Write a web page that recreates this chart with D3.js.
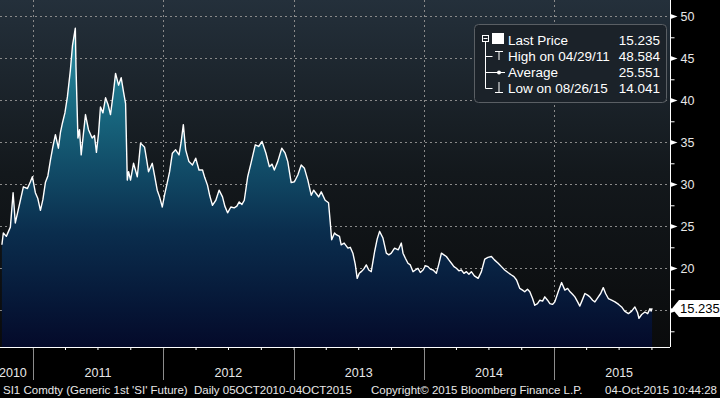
<!DOCTYPE html>
<html>
<head>
<meta charset="utf-8">
<script src="https://cdn.jsdelivr.net/npm/d3@7"></script>
<style>
  html, body { margin: 0; padding: 0; background: #000; overflow: hidden; }
  text { font-family: "Liberation Sans", Arial, sans-serif; }
</style>
</head>
<body>
<script>
// SI1 Comdty - generic 1st silver future (decimal year, price)
const yearFrac = [
  2010.762, 2010.773, 2010.796, 2010.827, 2010.848, 2010.865, 2010.881, 2010.904, 2010.927, 2010.958,
  2010.981, 2010.996, 2011.019, 2011.038, 2011.058, 2011.077, 2011.096, 2011.115, 2011.135, 2011.154,
  2011.173, 2011.196, 2011.212, 2011.227, 2011.246, 2011.265, 2011.288, 2011.304, 2011.326, 2011.331,
  2011.338, 2011.346, 2011.358, 2011.371, 2011.388, 2011.404, 2011.427, 2011.455, 2011.473, 2011.488,
  2011.504, 2011.519, 2011.538, 2011.558, 2011.577, 2011.596, 2011.619, 2011.635, 2011.658, 2011.678,
  2011.696, 2011.712, 2011.725, 2011.735, 2011.750, 2011.773, 2011.802, 2011.812, 2011.827, 2011.858,
  2011.873, 2011.888, 2011.917, 2011.935, 2011.955, 2011.973, 2011.994, 2012.012, 2012.032, 2012.050,
  2012.071, 2012.096, 2012.122, 2012.138, 2012.155, 2012.173, 2012.198, 2012.225, 2012.250, 2012.275,
  2012.302, 2012.319, 2012.340, 2012.358, 2012.378, 2012.404, 2012.429, 2012.455, 2012.473, 2012.494,
  2012.519, 2012.545, 2012.565, 2012.583, 2012.604, 2012.622, 2012.648, 2012.673, 2012.706, 2012.732,
  2012.758, 2012.788, 2012.814, 2012.835, 2012.852, 2012.878, 2012.909, 2012.935, 2012.955, 2012.981,
  2013.006, 2013.032, 2013.058, 2013.083, 2013.109, 2013.135, 2013.154, 2013.173, 2013.192, 2013.212,
  2013.242, 2013.268, 2013.281, 2013.292, 2013.314, 2013.327, 2013.352, 2013.365, 2013.388, 2013.417,
  2013.435, 2013.455, 2013.473, 2013.488, 2013.504, 2013.519, 2013.538, 2013.558, 2013.577, 2013.596,
  2013.622, 2013.642, 2013.660, 2013.686, 2013.712, 2013.731, 2013.750, 2013.775, 2013.804, 2013.827,
  2013.840, 2013.858, 2013.878, 2013.896, 2013.917, 2013.935, 2013.955, 2013.973, 2013.994, 2014.012,
  2014.032, 2014.050, 2014.071, 2014.096, 2014.115, 2014.135, 2014.154, 2014.173, 2014.192, 2014.212,
  2014.231, 2014.250, 2014.269, 2014.288, 2014.308, 2014.327, 2014.346, 2014.365, 2014.388, 2014.417,
  2014.442, 2014.468, 2014.492, 2014.519, 2014.542, 2014.571, 2014.596, 2014.621, 2014.646, 2014.673,
  2014.692, 2014.712, 2014.737, 2014.758, 2014.775, 2014.796, 2014.814, 2014.835, 2014.852, 2014.873,
  2014.891, 2014.912, 2014.929, 2014.950, 2014.968, 2014.988, 2015.006, 2015.032, 2015.058, 2015.083,
  2015.104, 2015.123, 2015.142, 2015.160, 2015.181, 2015.198, 2015.219, 2015.237, 2015.258, 2015.275,
  2015.296, 2015.314, 2015.340, 2015.358, 2015.378, 2015.396, 2015.417, 2015.442, 2015.468, 2015.496,
  2015.519, 2015.542, 2015.571, 2015.596, 2015.621, 2015.642, 2015.652, 2015.673, 2015.698, 2015.719,
  2015.737, 2015.746, 2015.753
];
const prices = [
  22.8, 24.2, 23.8, 24.9, 29.0, 25.4, 26.5, 28.1, 29.7, 29.5,
  30.3, 30.9, 29.0, 28.3, 26.9, 28.2, 30.2, 31.0, 32.9, 34.5,
  35.9, 34.3, 36.2, 37.3, 38.5, 40.4, 43.6, 46.5, 48.584, 44.0,
  40.0, 35.5, 36.5, 33.5, 36.0, 38.3, 36.5, 35.5, 35.8, 33.8,
  36.0, 39.2, 38.5, 40.3, 39.5, 38.3, 41.0, 43.2, 41.8, 42.7,
  41.0, 39.6, 30.5, 31.5, 30.5, 32.5, 30.9, 32.5, 34.9, 34.4,
  33.0, 31.5, 32.5, 31.0, 29.3, 28.5, 27.3, 28.8, 30.2, 31.5,
  33.7, 34.1, 33.5, 35.0, 37.1, 34.1, 32.7, 32.3, 33.1, 31.7,
  31.7, 30.8, 29.9, 28.6, 27.5, 28.1, 29.3, 28.5, 27.4, 26.6,
  27.3, 27.2, 27.4, 27.9, 27.6, 28.1, 30.9, 32.5, 34.7, 34.5,
  35.1, 33.7, 32.1, 32.4, 31.7, 32.7, 34.3, 33.7, 32.7, 30.2,
  30.3, 31.1, 32.3, 31.9, 30.5, 28.7, 29.3, 28.9, 28.5, 29.1,
  28.1, 27.8, 25.5, 23.4, 24.2, 24.0, 23.8, 22.8, 23.0, 22.4,
  22.5, 21.8, 20.5, 18.8, 19.4, 19.6, 19.9, 20.4, 19.8, 19.6,
  22.0, 23.5, 24.4, 23.6, 21.8, 21.6, 21.8, 22.4, 22.2, 23.0,
  21.8, 21.2, 20.6, 20.4, 19.6, 19.8, 20.0, 19.5, 19.8, 20.3,
  20.2, 19.9, 19.8, 19.4, 20.5, 21.8, 21.6, 21.4, 21.0, 20.6,
  20.2, 20.0, 19.7, 19.8, 19.4, 19.6, 19.3, 19.6, 19.1, 18.8,
  19.6, 21.1, 21.3, 21.4, 21.0, 20.6, 20.2, 19.8, 19.5, 19.2,
  19.0, 18.6, 17.6, 17.4, 17.2, 17.5, 17.2, 16.4, 15.6, 15.8,
  16.2, 16.1, 16.6, 16.2, 15.8, 15.7, 16.0, 17.2, 18.3, 17.4,
  17.6, 17.2, 16.9, 16.6, 16.0, 15.5, 16.3, 17.0, 16.8, 16.6,
  16.2, 16.0, 16.6, 17.0, 17.7, 17.0, 16.4, 16.2, 16.0, 15.7,
  15.4, 14.9, 14.6, 14.9, 15.4, 14.7, 14.041, 14.5, 14.8, 14.6,
  15.2, 14.9, 15.235
];

const yMajorTicks = [15, 20, 25, 30, 35, 40, 45, 50];
const yMinorTicks = [12.5, 17.5, 22.5, 27.5, 32.5, 37.5, 42.5, 47.5];
const yearLabels = ["2010", "2011", "2012", "2013", "2014", "2015"];

const legendLabels = ["Last Price", "High on 04/29/11", "Average", "Low on 08/26/15"];
const legendValues = ["15.235", "48.584", "25.551", "14.041"];
const lastPrice = 15.235;

const footerLeft = "SI1 Comdty (Generic 1st 'SI' Future)  Daily 05OCT2010-04OCT2015";
const footerMid = "Copyright\u00a9 2015 Bloomberg Finance L.P.";
const footerRight = "04-Oct-2015 10:44:28";

// decimal year -> Date
function fracToDate(t) {
    const yr = Math.floor(t);
    const a = Date.UTC(yr, 0, 1), b = Date.UTC(yr + 1, 0, 1);
    return new Date(a + (t - yr) * (b - a));
}

const data = yearFrac.map((t, i) => ({date: fracToDate(t), value: prices[i]}));

const width = 720, height = 398;
const plot = {left: 0, right: 670, top: 0, bottom: 347};

const svg = d3.select("body").append("svg")
    .attr("width", width)
    .attr("height", height);

const x = d3.scaleUtc()
    .domain([new Date(Date.UTC(2010, 9, 5)), new Date(Date.UTC(2015, 9, 4))])
    .range([1.5, 652.5]);

const y = d3.scaleLinear()
    .domain([10.63, 51.94])
    .range([plot.bottom, plot.top]);

const defs = svg.append("defs");

const bgGrad = defs.append("linearGradient")
    .attr("id", "bgGrad")
    .attr("x1", 0).attr("y1", 0).attr("x2", 0).attr("y2", 1);
bgGrad.append("stop").attr("offset", "0%").attr("stop-color", "#24303b");
bgGrad.append("stop").attr("offset", "50%").attr("stop-color", "#13181c");
bgGrad.append("stop").attr("offset", "100%").attr("stop-color", "#0a0b0c");

const areaGrad = defs.append("linearGradient")
    .attr("id", "areaGrad")
    .attr("gradientUnits", "userSpaceOnUse")
    .attr("x1", 0).attr("y1", 20).attr("x2", 0).attr("y2", plot.bottom);
areaGrad.append("stop").attr("offset", "0%").attr("stop-color", "#2c93a6");
areaGrad.append("stop").attr("offset", "30%").attr("stop-color", "#17647c");
areaGrad.append("stop").attr("offset", "65%").attr("stop-color", "#0a2d4d");
areaGrad.append("stop").attr("offset", "100%").attr("stop-color", "#040a2a");

defs.append("clipPath").attr("id", "plotClip")
    .append("rect")
    .attr("x", plot.left).attr("y", plot.top)
    .attr("width", plot.right - plot.left).attr("height", plot.bottom - plot.top);

// black page, gradient plot area
svg.append("rect").attr("width", width).attr("height", height).attr("fill", "#000");
svg.append("rect")
    .attr("x", plot.left).attr("y", plot.top)
    .attr("width", plot.right - plot.left).attr("height", plot.bottom - plot.top)
    .attr("fill", "url(#bgGrad)");

const gridColor = "#8a8a8a";
const yearStarts = d3.utcYear.range(x.domain()[0], x.domain()[1]);

// grid
const grid = svg.append("g").attr("clip-path", "url(#plotClip)");
grid.selectAll(".hgrid")
    .data(yMajorTicks)
    .join("line")
    .attr("x1", plot.left).attr("x2", plot.right)
    .attr("y1", d => Math.round(y(d)) + 0.5).attr("y2", d => Math.round(y(d)) + 0.5)
    .attr("stroke", gridColor).attr("stroke-width", 1).attr("stroke-dasharray", "2,3");
grid.selectAll(".vgrid")
    .data(yearStarts)
    .join("line")
    .attr("x1", d => Math.round(x(d)) + 0.5).attr("x2", d => Math.round(x(d)) + 0.5)
    .attr("y1", plot.top).attr("y2", plot.bottom)
    .attr("stroke", gridColor).attr("stroke-width", 1).attr("stroke-dasharray", "2,3");

// price area + line
const area = d3.area()
    .x(d => x(d.date))
    .y0(plot.bottom)
    .y1(d => y(d.value));
const line = d3.line()
    .x(d => x(d.date))
    .y(d => y(d.value));

const chart = svg.append("g").attr("clip-path", "url(#plotClip)");
chart.append("path").datum(data).attr("d", area).attr("fill", "url(#areaGrad)");
chart.append("path").datum(data).attr("d", line)
    .attr("fill", "none").attr("stroke", "#ffffff").attr("stroke-width", 1.4)
    .attr("stroke-linejoin", "round");

// legend box
const legend = svg.append("g").attr("transform", "translate(474,24)");
legend.append("rect")
    .attr("x", 0.5).attr("y", 0.5).attr("width", 192).attr("height", 78).attr("rx", 4)
    .attr("fill", "#1b2229").attr("stroke", "#5a5f64");

const rowY = [16, 32, 48, 64];
const treeX = 11.5;
legend.append("rect").attr("x", 8.5).attr("y", 11.5).attr("width", 6).attr("height", 6)
    .attr("fill", "none").attr("stroke", "#fff");
legend.append("line").attr("x1", 9.5).attr("x2", 13.5).attr("y1", 14.5).attr("y2", 14.5).attr("stroke", "#fff");
legend.append("path")
    .attr("d", `M${treeX},18 V${rowY[3] + 0.5} H${treeX + 7}`)
    .attr("fill", "none").attr("stroke", "#fff");
rowY.slice(1, 3).forEach(ry => {
    legend.append("line").attr("x1", treeX).attr("x2", treeX + 7)
        .attr("y1", ry + 0.5).attr("y2", ry + 0.5).attr("stroke", "#fff");
});
// icons
legend.append("rect").attr("x", 18).attr("y", 9).attr("width", 12).attr("height", 11).attr("fill", "#fff");
legend.append("path").attr("d", `M21,${rowY[1] - 4.5} H29 M25,${rowY[1] - 4.5} V${rowY[1] + 4}`)
    .attr("stroke", "#fff").attr("fill", "none");
legend.append("line").attr("x1", treeX).attr("x2", 31).attr("y1", rowY[2] + 0.5).attr("y2", rowY[2] + 0.5)
    .attr("stroke", "#fff");
legend.append("circle").attr("cx", 25).attr("cy", rowY[2] + 0.5).attr("r", 2).attr("fill", "#fff");
legend.append("path").attr("d", `M25,${rowY[3] - 6} V${rowY[3] + 4.5} M21,${rowY[3] + 4.5} H29`)
    .attr("stroke", "#fff").attr("fill", "none");

legend.selectAll(".lab")
    .data(legendLabels)
    .join("text")
    .attr("x", 34).attr("y", (d, i) => rowY[i] + 5)
    .attr("fill", "#ffffff").style("font-size", "13.5px")
    .text(d => d);
legend.selectAll(".val")
    .data(legendValues)
    .join("text")
    .attr("x", 186).attr("y", (d, i) => rowY[i] + 5)
    .attr("text-anchor", "end")
    .attr("fill", "#ffffff").style("font-size", "13.5px")
    .text(d => d);

// right axis
const yAxisMinor = d3.axisRight(y).tickValues(yMinorTicks).tickSize(4).tickFormat("");
const yAxisG = svg.append("g").attr("transform", `translate(${plot.right + 0.5},0)`);
yAxisG.call(yAxisMinor);
yAxisG.select(".domain").remove();
yAxisG.selectAll(".tick line").attr("stroke", "#fff");
yAxisG.append("line").attr("x1", 0).attr("x2", 0).attr("y1", 0).attr("y2", plot.bottom)
    .attr("stroke", "#fff");

const majors = yAxisG.selectAll(".major")
    .data(yMajorTicks)
    .join("g")
    .attr("transform", d => `translate(0,${Math.round(y(d)) + 0.5})`);
majors.append("path").attr("d", "M0,-2.5 L7,0 L0,2.5 Z").attr("fill", "#fff");
// the last-price tag sits on top of any label it hits, so leave those out
majors.filter(d => Math.abs(y(d) - y(lastPrice)) > 12)
    .append("text")
    .attr("x", 10).attr("dy", "0.35em")
    .attr("fill", "#e8e8e8").style("font-size", "12.5px")
    .text(d => d);

// last price tag
const lp = Math.round(y(lastPrice)) + 0.5;
svg.append("path")
    .attr("d", `M${plot.right + 2},${lp} L${plot.right + 9},${lp - 8.5} H720 V${lp + 8.5} H${plot.right + 9} Z`)
    .attr("fill", "#fff");
svg.append("text")
    .attr("x", plot.right + 10).attr("y", lp).attr("dy", "0.36em")
    .attr("fill", "#000").style("font-size", "13px")
    .text(lastPrice.toFixed(3));

// bottom axis
const xAxis = d3.axisBottom(x).ticks(d3.utcMonth.every(3)).tickSize(3).tickFormat("");
const xAxisG = svg.append("g").attr("transform", `translate(0,${plot.bottom})`);
xAxisG.call(xAxis);
xAxisG.select(".domain").remove();
xAxisG.selectAll(".tick line").attr("stroke", "#fff");
xAxisG.append("line").attr("x1", 0).attr("x2", plot.right).attr("y1", 0.5).attr("y2", 0.5)
    .attr("stroke", "#fff");
xAxisG.selectAll(".ydiv")
    .data(yearStarts)
    .join("line")
    .attr("x1", d => Math.round(x(d)) + 0.5).attr("x2", d => Math.round(x(d)) + 0.5)
    .attr("y1", 1).attr("y2", 33)
    .attr("stroke", "#8c8c8c");

const yearCenters = yearLabels.map((lab, i) => {
    if (i === 0) return x(yearStarts[0]) - 20;
    const a = d3.utcYear.offset(yearStarts[0], i - 1);
    const b = d3.utcYear.offset(yearStarts[0], i);
    return (x(a) + x(b)) / 2;
});
xAxisG.selectAll(".ylab")
    .data(yearLabels)
    .join("text")
    .attr("x", (d, i) => yearCenters[i]).attr("y", 30)
    .attr("text-anchor", "middle")
    .attr("fill", "#e8e8e8").style("font-size", "12.5px")
    .text(d => d);

// footer
const footer = svg.append("g").attr("fill", "#e8e8e8").style("font-size", "11.5px");
footer.append("text").attr("x", 3).attr("y", 394).attr("xml:space", "preserve").text(footerLeft);
footer.append("text").attr("x", 371).attr("y", 394).text(footerMid);
footer.append("text").attr("x", 717).attr("y", 394).attr("text-anchor", "end").text(footerRight);
</script>
</body>
</html>
